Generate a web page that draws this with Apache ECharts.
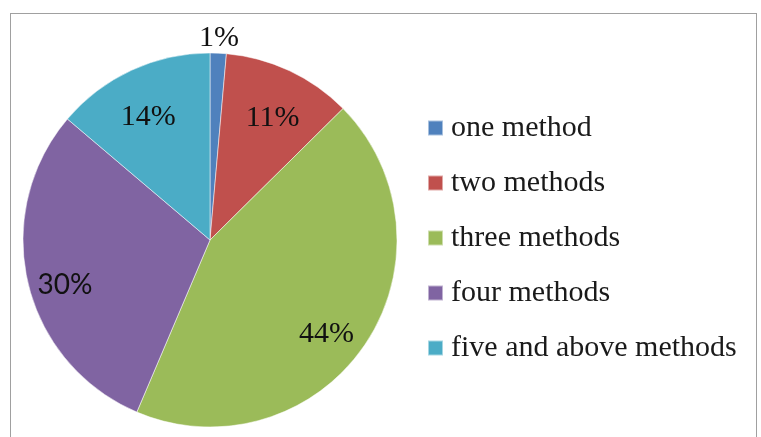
<!DOCTYPE html>
<html>
<head>
<meta charset="utf-8">
<script src="https://cdn.jsdelivr.net/npm/echarts@6/dist/echarts.min.js"></script>
<style>
html,body{margin:0;padding:0;background:#fff;}
#frame{position:absolute;left:10px;top:13px;width:747px;height:440px;border:1px solid #a0a0a0;box-sizing:border-box;}
#chart{position:absolute;left:0;top:0;width:761px;height:437px;}
</style>
</head>
<body>
<div id="frame"></div>
<div id="chart"></div>
<script>
var categories = ['one method', 'two methods', 'three methods', 'four methods', 'five and above methods'];
var shares = [1.4, 11.2, 43.8, 29.8, 13.8];
var colors = ['#4F81BD', '#C0504D', '#9BBB59', '#8064A2', '#4BACC6'];

var serif = 'Liberation Serif';
function pct(p) { return Math.round(p.percent) + '%'; }
function pctLow(p) { return '{s| }\n' + Math.round(p.percent) + '%'; }

var chart = echarts.init(document.getElementById('chart'));
var center = [210, 240];
var R = 187;

chart.setOption({
  animation: false,
  backgroundColor: 'transparent',
  legend: {
    orient: 'vertical',
    left: 427,
    top: 113,
    padding: 0,
    itemWidth: 15,
    itemHeight: 15,
    itemGap: 25,
    icon: 'rect',
    data: categories,
    textStyle: { fontFamily: serif, fontSize: 30, color: '#1a1a1a', padding: [0, 0, 0, 3] }
  },
  series: [
    {
      type: 'pie',
      center: center,
      radius: [0, R],
      startAngle: 90,
      clockwise: true,
      avoidLabelOverlap: false,
      itemStyle: { borderColor: 'rgba(255,255,255,0.5)', borderWidth: 1 },
      label: { show: false },
      labelLine: { show: false },
      emphasis: { disabled: true },
      data: categories.map(function (name, i) {
        return { name: name, value: shares[i], itemStyle: { color: colors[i] } };
      })
    },
    {
      type: 'pie',
      center: center,
      radius: [101, R],
      startAngle: 90,
      clockwise: true,
      silent: true,
      legendHoverLink: false,
      avoidLabelOverlap: false,
      itemStyle: { color: 'transparent', borderWidth: 0 },
      labelLine: { show: false },
      label: {
        show: true, position: 'inside', formatter: pctLow,
        fontFamily: serif, fontSize: 30, color: '#111', lineHeight: 22,
        rich: { s: { fontSize: 10, lineHeight: 22 } }
      },
      emphasis: { disabled: true },
      data: categories.map(function (name, i) {
        return {
          name: name,
          value: shares[i],
          itemStyle: { color: 'transparent' },
          label: i === 0 ? { show: false } : (i === 3 ? { show: true, fontFamily: 'Lato', fontSize: 28, padding: [0, 4, 0, 0] } : (i === 2 ? { show: true, padding: [0, 10, 0, 0] } : { show: true }))
        };
      })
    },
    {
      type: 'pie',
      center: center,
      radius: [186, 212],
      startAngle: 90,
      clockwise: true,
      silent: true,
      legendHoverLink: false,
      avoidLabelOverlap: false,
      itemStyle: { color: 'transparent', borderWidth: 0 },
      labelLine: { show: false },
      label: { show: true, position: 'inside', formatter: pct, fontFamily: serif, fontSize: 30, color: '#111' },
      emphasis: { disabled: true },
      data: categories.map(function (name, i) {
        return {
          name: name,
          value: shares[i],
          itemStyle: { color: 'transparent' },
          label: { show: i === 0 }
        };
      })
    }
  ]
});
</script>
</body>
</html>
